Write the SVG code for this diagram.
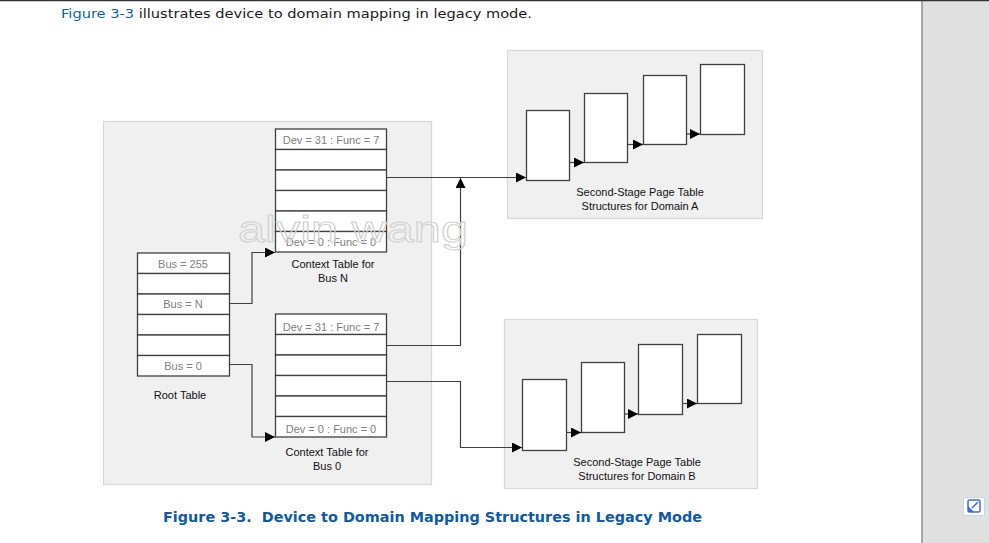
<svg xmlns="http://www.w3.org/2000/svg" width="989" height="543" viewBox="0 0 989 543">
<defs>
<style>
.panel{fill:#f0f0f0;stroke:#d8d8d8;stroke-width:1.2}
.cell{fill:#ffffff;stroke:#404040;stroke-width:1.3}
.pg{fill:#ffffff;stroke:#404040;stroke-width:1.3}
.lbl{font-family:"Liberation Sans",Arial,sans-serif;font-size:11px;fill:#808080;text-anchor:middle}
.cap{font-family:"Liberation Sans",Arial,sans-serif;font-size:11px;fill:#111111;text-anchor:middle}
.conn{fill:none;stroke:#404040;stroke-width:1.2}
</style>
<marker id="ah" viewBox="0 0 10 10" refX="10" refY="5" markerWidth="10" markerHeight="10" markerUnits="userSpaceOnUse" orient="auto">
<path d="M0,0 L10,5 L0,10 z" fill="#000000"/>
</marker>
</defs>
<rect x="0" y="0" width="989" height="543" fill="#ffffff"/>
<!-- sidebar -->
<rect x="921" y="0" width="68" height="543" fill="#e0e0e0"/>
<line x1="922" y1="0" x2="922" y2="543" stroke="#a8a8a8" stroke-width="2"/>
<line x1="0" y1="0.5" x2="989" y2="0.5" stroke="#333333" stroke-width="1.5"/>
<g id="icon">
<rect x="963.5" y="497.5" width="21" height="18" fill="#ffffff" stroke="#c8d4f0" stroke-width="1"/>
<rect x="968" y="500" width="12" height="12" rx="1.5" fill="#ffffff" stroke="#3d6be0" stroke-width="1.5"/>
<path d="M968,506 L968,512 L974,512 z" fill="#3d6be0"/>
<line x1="972" y1="508" x2="978" y2="502" stroke="#3d6be0" stroke-width="1.5"/>
</g>
<text x="61" y="18" font-family="'DejaVu Sans',Verdana,sans-serif" font-size="13" textLength="471" lengthAdjust="spacingAndGlyphs" fill="#1a1a1a"><tspan fill="#0a5fb0">Figure 3-3</tspan> illustrates device to domain mapping in legacy mode.</text>
<text x="163" y="522" font-family="'DejaVu Sans',Verdana,sans-serif" font-weight="bold" font-size="14" textLength="539" lengthAdjust="spacingAndGlyphs" fill="#0f5aa6" xml:space="preserve">Figure 3-3.  Device to Domain Mapping Structures in Legacy Mode</text>

<!-- panels -->
<g id="host-panel"><rect class="panel" x="103.5" y="121.5" width="328" height="363"/></g>
<g id="domainA-panel"><rect class="panel" x="507.5" y="50.5" width="255" height="168"/></g>
<g id="domainB-panel"><rect class="panel" x="504.5" y="319.5" width="253" height="169"/></g>

<g id="root-table">
<rect class="cell" x="137.5" y="253" width="92" height="20.5"/>
<rect class="cell" x="137.5" y="273.5" width="92" height="20.5"/>
<rect class="cell" x="137.5" y="294" width="92" height="20.5"/>
<rect class="cell" x="137.5" y="314.5" width="92" height="20.5"/>
<rect class="cell" x="137.5" y="335" width="92" height="20.5"/>
<rect class="cell" x="137.5" y="355.5" width="92" height="20.5"/>
<text class="lbl" x="183" y="267.5">Bus = 255</text>
<text class="lbl" x="183" y="308">Bus = N</text>
<text class="lbl" x="183" y="369.5">Bus = 0</text>
<text class="cap" x="180" y="399">Root Table</text>
</g>

<g id="context-table-n">
<rect class="cell" x="275.5" y="129" width="111" height="20.5"/>
<rect class="cell" x="275.5" y="149.5" width="111" height="20.5"/>
<rect class="cell" x="275.5" y="170" width="111" height="20.5"/>
<rect class="cell" x="275.5" y="190.5" width="111" height="20.5"/>
<rect class="cell" x="275.5" y="211" width="111" height="20.5"/>
<rect class="cell" x="275.5" y="231.5" width="111" height="20.5"/>
<text class="lbl" x="331" y="143.5">Dev = 31 : Func = 7</text>
<text class="lbl" x="331" y="246">Dev = 0 : Func = 0</text>
<text class="cap" x="333" y="268">Context Table for</text>
<text class="cap" x="333" y="282">Bus N</text>
</g>

<g id="context-table-0">
<rect class="cell" x="275.5" y="314" width="111" height="20.5"/>
<rect class="cell" x="275.5" y="334.5" width="111" height="20.5"/>
<rect class="cell" x="275.5" y="355" width="111" height="20.5"/>
<rect class="cell" x="275.5" y="375.5" width="111" height="20.5"/>
<rect class="cell" x="275.5" y="396" width="111" height="20.5"/>
<rect class="cell" x="275.5" y="416.5" width="111" height="20.5"/>
<text class="lbl" x="331" y="331">Dev = 31 : Func = 7</text>
<text class="lbl" x="331" y="433">Dev = 0 : Func = 0</text>
<text class="cap" x="327" y="455.5">Context Table for</text>
<text class="cap" x="327" y="469.5">Bus 0</text>
</g>

<g id="domainA">
<rect class="pg" x="526.5" y="110.5" width="43" height="70"/>
<rect class="pg" x="584.5" y="93.5" width="43" height="69"/>
<rect class="pg" x="643.5" y="75.5" width="43" height="69"/>
<rect class="pg" x="700.5" y="64.5" width="44" height="70"/>
<text class="cap" x="640" y="196">Second-Stage Page Table</text>
<text class="cap" x="640" y="210">Structures for Domain A</text>
</g>

<g id="domainB">
<rect class="pg" x="522.5" y="379.5" width="44" height="71"/>
<rect class="pg" x="581.5" y="362.5" width="43" height="70"/>
<rect class="pg" x="638.5" y="344.5" width="44" height="70"/>
<rect class="pg" x="697.5" y="334.5" width="44" height="69"/>
<text class="cap" x="637" y="466">Second-Stage Page Table</text>
<text class="cap" x="637" y="480">Structures for Domain B</text>
</g>

<g id="connectors">
<path class="conn" d="M229.5,303.5 H252 V252.5 H275" marker-end="url(#ah)"/>
<path class="conn" d="M229.5,364.5 H252 V437 H275" marker-end="url(#ah)"/>
<path class="conn" d="M386.5,177.5 H526" marker-end="url(#ah)"/>
<path class="conn" d="M386.5,345.5 H460.5 V178" marker-end="url(#ah)"/>
<path class="conn" d="M386.5,381.5 H460.5 V447.5 H522" marker-end="url(#ah)"/>
<path class="conn" d="M569.5,162.5 H584" marker-end="url(#ah)"/>
<path class="conn" d="M627.5,144.5 H643" marker-end="url(#ah)"/>
<path class="conn" d="M686.5,134 H700" marker-end="url(#ah)"/>
<path class="conn" d="M566.5,432.5 H581" marker-end="url(#ah)"/>
<path class="conn" d="M624.5,414 H638" marker-end="url(#ah)"/>
<path class="conn" d="M682.5,403.5 H697" marker-end="url(#ah)"/>
</g>

<!-- watermark -->
<text x="238" y="242" font-family="'Liberation Sans',Arial,sans-serif" font-size="37" textLength="230" lengthAdjust="spacingAndGlyphs" fill="none" stroke="#d0d0d0" stroke-width="1">alvin wang</text>
</svg>
